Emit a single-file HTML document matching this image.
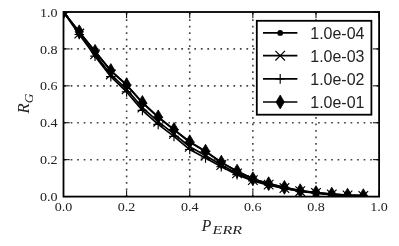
<!DOCTYPE html><html><head><meta charset="utf-8"><style>html,body{margin:0;padding:0;background:#fff}svg{display:block;will-change:transform}text{font-family:"Liberation Serif",serif;fill:#222}.s{font-family:"Liberation Sans",sans-serif}</style></head><body>
<svg width="399" height="246" viewBox="0 0 399 246">
<rect width="399" height="246" fill="#fff"/>
<defs><clipPath id="c"><rect x="63.5" y="12.0" width="315.6" height="184.6"/></clipPath></defs>
<g stroke="#444" stroke-width="1.6" stroke-dasharray="1.7 4.81" fill="none"><path d="M126.62 196.75V12.0"/><path d="M189.74 196.75V12.0"/><path d="M252.86 196.75V12.0"/><path d="M315.98 196.75V12.0"/><path d="M64.15 159.68H379.1"/><path d="M64.15 122.76H379.1"/><path d="M64.15 85.84H379.1"/><path d="M64.15 48.92H379.1"/></g>
<g clip-path="url(#c)">
<polyline points="63.50,12.00 79.28,31.92 95.06,51.61 110.84,70.88 126.62,85.16 142.40,102.93 158.18,117.31 173.96,129.83 189.74,142.24 205.52,151.60 221.30,162.44 237.08,171.34 252.86,178.83 268.64,183.77 284.42,187.44 300.20,190.74 315.98,192.58 331.76,194.14 347.54,195.15 363.32,195.70" fill="none" stroke="#000" stroke-width="1.7" stroke-linejoin="round"/>
<g fill="#000"><circle cx="63.50" cy="12.00" r="2.9"/><circle cx="79.28" cy="31.92" r="2.9"/><circle cx="95.06" cy="51.61" r="2.9"/><circle cx="110.84" cy="70.88" r="2.9"/><circle cx="126.62" cy="85.16" r="2.9"/><circle cx="142.40" cy="102.93" r="2.9"/><circle cx="158.18" cy="117.31" r="2.9"/><circle cx="173.96" cy="129.83" r="2.9"/><circle cx="189.74" cy="142.24" r="2.9"/><circle cx="205.52" cy="151.60" r="2.9"/><circle cx="221.30" cy="162.44" r="2.9"/><circle cx="237.08" cy="171.34" r="2.9"/><circle cx="252.86" cy="178.83" r="2.9"/><circle cx="268.64" cy="183.77" r="2.9"/><circle cx="284.42" cy="187.44" r="2.9"/><circle cx="300.20" cy="190.74" r="2.9"/><circle cx="315.98" cy="192.58" r="2.9"/><circle cx="331.76" cy="194.14" r="2.9"/><circle cx="347.54" cy="195.15" r="2.9"/><circle cx="363.32" cy="195.70" r="2.9"/></g>
<polyline points="63.50,12.00 79.28,33.52 95.06,54.39 110.84,74.42 126.62,89.34 142.40,107.53 158.18,121.70 173.96,133.90 189.74,146.74 205.52,155.56 221.30,165.07 237.08,173.37 252.86,180.11 268.64,184.62 284.42,188.08 300.20,191.17 315.98,193.01 331.76,194.40 347.54,195.36 363.32,195.91" fill="none" stroke="#000" stroke-width="1.7" stroke-linejoin="round"/>
<g fill="#000"><path d="M58.70 7.20L68.30 16.80M58.70 16.80L68.30 7.20" stroke="#000" stroke-width="1.15" fill="none"/><path d="M74.48 28.72L84.08 38.32M74.48 38.32L84.08 28.72" stroke="#000" stroke-width="1.15" fill="none"/><path d="M90.26 49.59L99.86 59.19M90.26 59.19L99.86 49.59" stroke="#000" stroke-width="1.15" fill="none"/><path d="M106.04 69.62L115.64 79.22M106.04 79.22L115.64 69.62" stroke="#000" stroke-width="1.15" fill="none"/><path d="M121.82 84.54L131.42 94.14M121.82 94.14L131.42 84.54" stroke="#000" stroke-width="1.15" fill="none"/><path d="M137.60 102.73L147.20 112.33M137.60 112.33L147.20 102.73" stroke="#000" stroke-width="1.15" fill="none"/><path d="M153.38 116.90L162.98 126.50M153.38 126.50L162.98 116.90" stroke="#000" stroke-width="1.15" fill="none"/><path d="M169.16 129.10L178.76 138.70M169.16 138.70L178.76 129.10" stroke="#000" stroke-width="1.15" fill="none"/><path d="M184.94 141.94L194.54 151.54M184.94 151.54L194.54 141.94" stroke="#000" stroke-width="1.15" fill="none"/><path d="M200.72 150.76L210.32 160.36M200.72 160.36L210.32 150.76" stroke="#000" stroke-width="1.15" fill="none"/><path d="M216.50 160.27L226.10 169.87M216.50 169.87L226.10 160.27" stroke="#000" stroke-width="1.15" fill="none"/><path d="M232.28 168.57L241.88 178.17M232.28 178.17L241.88 168.57" stroke="#000" stroke-width="1.15" fill="none"/><path d="M248.06 175.31L257.66 184.91M248.06 184.91L257.66 175.31" stroke="#000" stroke-width="1.15" fill="none"/><path d="M263.84 179.82L273.44 189.42M263.84 189.42L273.44 179.82" stroke="#000" stroke-width="1.15" fill="none"/><path d="M279.62 183.28L289.22 192.88M279.62 192.88L289.22 183.28" stroke="#000" stroke-width="1.15" fill="none"/><path d="M295.40 186.37L305.00 195.97M295.40 195.97L305.00 186.37" stroke="#000" stroke-width="1.15" fill="none"/><path d="M311.18 188.21L320.78 197.81M311.18 197.81L320.78 188.21" stroke="#000" stroke-width="1.15" fill="none"/><path d="M326.96 189.60L336.56 199.20M326.96 199.20L336.56 189.60" stroke="#000" stroke-width="1.15" fill="none"/><path d="M342.74 190.56L352.34 200.16M342.74 200.16L352.34 190.56" stroke="#000" stroke-width="1.15" fill="none"/><path d="M358.52 191.11L368.12 200.71M358.52 200.71L368.12 191.11" stroke="#000" stroke-width="1.15" fill="none"/></g>
<polyline points="63.50,12.00 79.28,34.52 95.06,56.12 110.84,76.61 126.62,91.93 142.40,110.39 158.18,124.42 173.96,136.42 189.74,149.53 205.52,158.02 221.30,166.69 237.08,174.63 252.86,180.91 268.64,185.15 284.42,188.48 300.20,191.43 315.98,193.28 331.76,194.57 347.54,195.49 363.32,196.05" fill="none" stroke="#000" stroke-width="1.7" stroke-linejoin="round"/>
<g fill="#000"><path d="M58.70 12.00H68.30M63.50 7.20V16.80" stroke="#000" stroke-width="1.15" fill="none"/><path d="M74.48 34.52H84.08M79.28 29.72V39.32" stroke="#000" stroke-width="1.15" fill="none"/><path d="M90.26 56.12H99.86M95.06 51.32V60.92" stroke="#000" stroke-width="1.15" fill="none"/><path d="M106.04 76.61H115.64M110.84 71.81V81.41" stroke="#000" stroke-width="1.15" fill="none"/><path d="M121.82 91.93H131.42M126.62 87.13V96.73" stroke="#000" stroke-width="1.15" fill="none"/><path d="M137.60 110.39H147.20M142.40 105.59V115.19" stroke="#000" stroke-width="1.15" fill="none"/><path d="M153.38 124.42H162.98M158.18 119.62V129.22" stroke="#000" stroke-width="1.15" fill="none"/><path d="M169.16 136.42H178.76M173.96 131.62V141.22" stroke="#000" stroke-width="1.15" fill="none"/><path d="M184.94 149.53H194.54M189.74 144.73V154.33" stroke="#000" stroke-width="1.15" fill="none"/><path d="M200.72 158.02H210.32M205.52 153.22V162.82" stroke="#000" stroke-width="1.15" fill="none"/><path d="M216.50 166.69H226.10M221.30 161.89V171.49" stroke="#000" stroke-width="1.15" fill="none"/><path d="M232.28 174.63H241.88M237.08 169.83V179.43" stroke="#000" stroke-width="1.15" fill="none"/><path d="M248.06 180.91H257.66M252.86 176.11V185.71" stroke="#000" stroke-width="1.15" fill="none"/><path d="M263.84 185.15H273.44M268.64 180.35V189.95" stroke="#000" stroke-width="1.15" fill="none"/><path d="M279.62 188.48H289.22M284.42 183.68V193.28" stroke="#000" stroke-width="1.15" fill="none"/><path d="M295.40 191.43H305.00M300.20 186.63V196.23" stroke="#000" stroke-width="1.15" fill="none"/><path d="M311.18 193.28H320.78M315.98 188.48V198.08" stroke="#000" stroke-width="1.15" fill="none"/><path d="M326.96 194.57H336.56M331.76 189.77V199.37" stroke="#000" stroke-width="1.15" fill="none"/><path d="M342.74 195.49H352.34M347.54 190.69V200.29" stroke="#000" stroke-width="1.15" fill="none"/><path d="M358.52 196.05H368.12M363.32 191.25V200.85" stroke="#000" stroke-width="1.15" fill="none"/></g>
<polyline points="63.50,12.00 79.28,31.75 95.06,51.32 110.84,70.52 126.62,84.73 142.40,102.45 158.18,116.85 173.96,129.41 189.74,141.77 205.52,151.19 221.30,162.17 237.08,171.13 252.86,178.69 268.64,183.68 284.42,187.37 300.20,190.69 315.98,192.54 331.76,194.11 347.54,195.12 363.32,195.68" fill="none" stroke="#000" stroke-width="1.7" stroke-linejoin="round"/>
<g fill="#000"><path d="M63.50 5.10L67.60 12.00L63.50 18.90L59.40 12.00Z" stroke="#000" stroke-width="0.8"/><path d="M79.28 24.85L83.38 31.75L79.28 38.65L75.18 31.75Z" stroke="#000" stroke-width="0.8"/><path d="M95.06 44.42L99.16 51.32L95.06 58.22L90.96 51.32Z" stroke="#000" stroke-width="0.8"/><path d="M110.84 63.62L114.94 70.52L110.84 77.42L106.74 70.52Z" stroke="#000" stroke-width="0.8"/><path d="M126.62 77.83L130.72 84.73L126.62 91.63L122.52 84.73Z" stroke="#000" stroke-width="0.8"/><path d="M142.40 95.55L146.50 102.45L142.40 109.35L138.30 102.45Z" stroke="#000" stroke-width="0.8"/><path d="M158.18 109.95L162.28 116.85L158.18 123.75L154.08 116.85Z" stroke="#000" stroke-width="0.8"/><path d="M173.96 122.51L178.06 129.41L173.96 136.31L169.86 129.41Z" stroke="#000" stroke-width="0.8"/><path d="M189.74 134.87L193.84 141.77L189.74 148.67L185.64 141.77Z" stroke="#000" stroke-width="0.8"/><path d="M205.52 144.29L209.62 151.19L205.52 158.09L201.42 151.19Z" stroke="#000" stroke-width="0.8"/><path d="M221.30 155.27L225.40 162.17L221.30 169.07L217.20 162.17Z" stroke="#000" stroke-width="0.8"/><path d="M237.08 164.23L241.18 171.13L237.08 178.03L232.98 171.13Z" stroke="#000" stroke-width="0.8"/><path d="M252.86 171.79L256.96 178.69L252.86 185.59L248.76 178.69Z" stroke="#000" stroke-width="0.8"/><path d="M268.64 176.78L272.74 183.68L268.64 190.58L264.54 183.68Z" stroke="#000" stroke-width="0.8"/><path d="M284.42 180.47L288.52 187.37L284.42 194.27L280.32 187.37Z" stroke="#000" stroke-width="0.8"/><path d="M300.20 183.79L304.30 190.69L300.20 197.59L296.10 190.69Z" stroke="#000" stroke-width="0.8"/><path d="M315.98 185.64L320.08 192.54L315.98 199.44L311.88 192.54Z" stroke="#000" stroke-width="0.8"/><path d="M331.76 187.21L335.86 194.11L331.76 201.01L327.66 194.11Z" stroke="#000" stroke-width="0.8"/><path d="M347.54 188.22L351.64 195.12L347.54 202.02L343.44 195.12Z" stroke="#000" stroke-width="0.8"/><path d="M363.32 188.78L367.42 195.68L363.32 202.58L359.22 195.68Z" stroke="#000" stroke-width="0.8"/></g>
</g>
<path d="M63.50 196.6v-6.2M63.50 12.0v6.2M63.5 196.60h6.2M379.1 196.60h-6.2M126.62 196.6v-6.2M126.62 12.0v6.2M63.5 159.68h6.2M379.1 159.68h-6.2M189.74 196.6v-6.2M189.74 12.0v6.2M63.5 122.76h6.2M379.1 122.76h-6.2M252.86 196.6v-6.2M252.86 12.0v6.2M63.5 85.84h6.2M379.1 85.84h-6.2M315.98 196.6v-6.2M315.98 12.0v6.2M63.5 48.92h6.2M379.1 48.92h-6.2M379.10 196.6v-6.2M379.10 12.0v6.2M63.5 12.00h6.2M379.1 12.00h-6.2" stroke="#000" stroke-width="1.0" fill="none"/>
<rect x="63.5" y="12.0" width="315.6" height="184.6" fill="none" stroke="#000" stroke-width="1.8"/>
<text x="63.50" y="211.4" font-size="13.5" text-anchor="middle" textLength="17.6" lengthAdjust="spacingAndGlyphs">0.0</text>
<text x="57.5" y="201.25" font-size="13.5" text-anchor="end" textLength="17.6" lengthAdjust="spacingAndGlyphs">0.0</text>
<text x="126.62" y="211.4" font-size="13.5" text-anchor="middle" textLength="17.6" lengthAdjust="spacingAndGlyphs">0.2</text>
<text x="57.5" y="164.33" font-size="13.5" text-anchor="end" textLength="17.6" lengthAdjust="spacingAndGlyphs">0.2</text>
<text x="189.74" y="211.4" font-size="13.5" text-anchor="middle" textLength="17.6" lengthAdjust="spacingAndGlyphs">0.4</text>
<text x="57.5" y="127.41" font-size="13.5" text-anchor="end" textLength="17.6" lengthAdjust="spacingAndGlyphs">0.4</text>
<text x="252.86" y="211.4" font-size="13.5" text-anchor="middle" textLength="17.6" lengthAdjust="spacingAndGlyphs">0.6</text>
<text x="57.5" y="90.49" font-size="13.5" text-anchor="end" textLength="17.6" lengthAdjust="spacingAndGlyphs">0.6</text>
<text x="315.98" y="211.4" font-size="13.5" text-anchor="middle" textLength="17.6" lengthAdjust="spacingAndGlyphs">0.8</text>
<text x="57.5" y="53.57" font-size="13.5" text-anchor="end" textLength="17.6" lengthAdjust="spacingAndGlyphs">0.8</text>
<text x="379.10" y="211.4" font-size="13.5" text-anchor="middle" textLength="17.6" lengthAdjust="spacingAndGlyphs">1.0</text>
<text x="57.5" y="16.65" font-size="13.5" text-anchor="end" textLength="17.6" lengthAdjust="spacingAndGlyphs">1.0</text>
<text x="201.8" y="230.8" font-size="16.5" font-style="italic" textLength="9.6" lengthAdjust="spacingAndGlyphs">P</text><text x="212.6" y="233.8" font-size="11.5" font-style="italic" textLength="29.4" lengthAdjust="spacingAndGlyphs">ERR</text>
<g transform="translate(29.3,113.6) rotate(-90)"><text x="0" y="0" font-size="16.5" font-style="italic" textLength="10.2" lengthAdjust="spacingAndGlyphs">R</text><text x="10.4" y="3.2" font-size="11.5" font-style="italic" textLength="9.6" lengthAdjust="spacingAndGlyphs">G</text></g>
<rect x="256.8" y="20.8" width="114.59999999999997" height="93.9" fill="#fff" stroke="#000" stroke-width="1.8"/>
<path d="M263 32.9H297.4" stroke="#000" stroke-width="1.7"/>
<g fill="#000"><circle cx="280.20" cy="32.90" r="2.9"/></g>
<text class="s" x="310.3" y="38.7" font-size="16" textLength="54.1" lengthAdjust="spacingAndGlyphs">1.0e-04</text>
<path d="M263 55.7H297.4" stroke="#000" stroke-width="1.7"/>
<g fill="#000"><path d="M275.40 50.90L285.00 60.50M275.40 60.50L285.00 50.90" stroke="#000" stroke-width="1.15" fill="none"/></g>
<text class="s" x="310.3" y="61.5" font-size="16" textLength="54.1" lengthAdjust="spacingAndGlyphs">1.0e-03</text>
<path d="M263 78.9H297.4" stroke="#000" stroke-width="1.7"/>
<g fill="#000"><path d="M275.40 78.90H285.00M280.20 74.10V83.70" stroke="#000" stroke-width="1.15" fill="none"/></g>
<text class="s" x="310.3" y="84.7" font-size="16" textLength="54.1" lengthAdjust="spacingAndGlyphs">1.0e-02</text>
<path d="M263 102.0H297.4" stroke="#000" stroke-width="1.7"/>
<g fill="#000"><path d="M280.20 95.10L284.30 102.00L280.20 108.90L276.10 102.00Z" stroke="#000" stroke-width="0.8"/></g>
<text class="s" x="310.3" y="107.8" font-size="16" textLength="54.1" lengthAdjust="spacingAndGlyphs">1.0e-01</text>
</svg></body></html>
